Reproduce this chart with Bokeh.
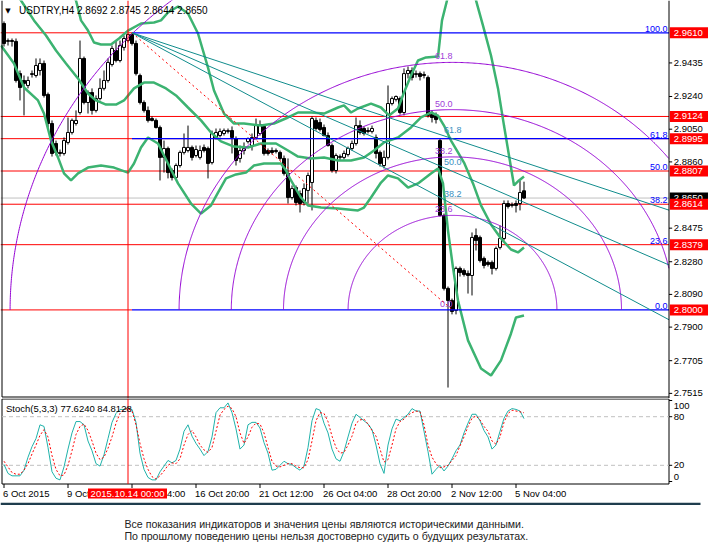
import numpy as np
from bokeh.plotting import figure
from bokeh.models import Range1d, ColumnDataSource
from bokeh.layouts import column
from bokeh.core.properties import value
from bokeh.embed import file_html
from bokeh.resources import INLINE

# ---------------- data ----------------
bar_index = list(range(131))
opens = [2.9664, 2.9560, 2.9565, 2.9560, 2.9373, 2.9333, 2.9304, 2.9368, 2.9362, 2.9391,
         2.9432, 2.9252, 2.9083, 2.8967, 2.8915, 2.8909, 2.8973, 2.9031, 2.9083, 2.9147,
         2.9461, 2.9205, 2.9263, 2.9159, 2.9228, 2.9287, 2.9333, 2.9426, 2.9507, 2.9449,
         2.9525, 2.9565, 2.9600, 2.9548, 2.9362, 2.9205, 2.9159, 2.9112, 2.9101, 2.9060,
         2.8886, 2.8938, 2.8810, 2.8769, 2.8839, 2.8915, 2.8926, 2.8944, 2.8897, 2.8886,
         2.8944, 2.8938, 2.8856, 2.9002, 2.9013, 2.9025, 2.9037, 2.9042, 2.8996, 2.8880,
         2.8926, 2.8978, 2.8955, 2.9002, 2.9025, 2.9066, 2.8926, 2.8926, 2.8926, 2.8915,
         2.8880, 2.8793, 2.8653, 2.8711, 2.8676, 2.8624, 2.8694, 2.8740, 2.9101, 2.9089,
         2.9060, 2.9013, 2.8955, 2.8810, 2.8886, 2.8886, 2.8903, 2.8938, 2.8967, 2.9071,
         2.9054, 2.9042, 2.9037, 2.9002, 2.8915, 2.8839, 2.8886, 2.9199, 2.9223, 2.9228,
         2.9147, 2.9373, 2.9391, 2.9368, 2.9373, 2.9368, 2.9350, 2.9135, 2.9130, 2.8984,
         2.8549, 2.8125, 2.8055, 2.7997, 2.8241, 2.8229, 2.8212, 2.8200, 2.8432, 2.8421,
         2.8299, 2.8276, 2.8276, 2.8241, 2.8363, 2.8415, 2.8618, 2.8612, 2.8618, 2.8618,
         2.8692]
highs = [2.9676, 2.9577, 2.9577, 2.9577, 2.9391, 2.9362, 2.9356, 2.9391, 2.9461, 2.9461,
         2.9449, 2.9263, 2.9101, 2.8984, 2.8932, 2.9002, 2.9118, 2.9112, 2.9159, 2.9565,
         2.9472, 2.9275, 2.9287, 2.9246, 2.9345, 2.9391, 2.9461, 2.9536, 2.9565, 2.9565,
         2.9594, 2.9606, 2.9610, 2.9565, 2.9373, 2.9217, 2.9182, 2.9124, 2.9112, 2.9071,
         2.8984, 2.8949, 2.8822, 2.8851, 2.8926, 2.9025, 2.9071, 2.8955, 2.8955, 2.8955,
         2.8961, 2.8949, 2.9042, 2.9054, 2.9054, 2.9054, 2.9054, 2.9066, 2.9008, 2.8955,
         2.8973, 2.9002, 2.9025, 2.9112, 2.9101, 2.9077, 2.8938, 2.8944, 2.8938, 2.8926,
         2.8897, 2.8880, 2.8723, 2.8723, 2.8694, 2.8735, 2.8798, 2.9124, 2.9118, 2.9112,
         2.9077, 2.9031, 2.8967, 2.8909, 2.8903, 2.8926, 2.8949, 2.8984, 2.9118, 2.9101,
         2.9066, 2.9060, 2.9071, 2.9019, 2.8926, 2.8926, 2.9304, 2.9240, 2.9246, 2.9240,
         2.9403, 2.9414, 2.9409, 2.9391, 2.9385, 2.9385, 2.9362, 2.9159, 2.9147, 2.8996,
         2.8560, 2.8136, 2.8066, 2.8252, 2.8252, 2.8241, 2.8229, 2.8450, 2.8473, 2.8432,
         2.8310, 2.8287, 2.8287, 2.8368, 2.8490, 2.8636, 2.8636, 2.8624, 2.8636, 2.8752,
         2.8745]
lows = [2.9530, 2.9536, 2.9530, 2.9321, 2.9217, 2.9130, 2.9287, 2.9350, 2.9350, 2.9362,
        2.9234, 2.9060, 2.8891, 2.8897, 2.8891, 2.8897, 2.8961, 2.9019, 2.9071, 2.9135,
        2.9194, 2.9141, 2.9135, 2.9147, 2.9217, 2.9275, 2.9321, 2.9414, 2.9438, 2.9438,
        2.9507, 2.9554, 2.9536, 2.9362, 2.9194, 2.9147, 2.9089, 2.9095, 2.9054, 2.8752,
        2.8798, 2.8764, 2.8752, 2.8758, 2.8827, 2.8903, 2.8915, 2.8868, 2.8886, 2.8874,
        2.8915, 2.8764, 2.8845, 2.8990, 2.9002, 2.9013, 2.9025, 2.8909, 2.8839, 2.8856,
        2.8903, 2.8967, 2.8926, 2.8990, 2.9013, 2.8897, 2.8897, 2.8903, 2.8909, 2.8868,
        2.8781, 2.8618, 2.8641, 2.8607, 2.8566, 2.8607, 2.8618, 2.8578, 2.9042, 2.9037,
        2.9008, 2.8949, 2.8798, 2.8793, 2.8868, 2.8874, 2.8891, 2.8926, 2.8955, 2.9019,
        2.9013, 2.9025, 2.9025, 2.8880, 2.8833, 2.8822, 2.8874, 2.9188, 2.9211, 2.9135,
        2.9130, 2.9345, 2.9333, 2.9350, 2.9333, 2.9345, 2.9118, 2.9089, 2.9083, 2.8543,
        2.8113, 2.7549, 2.7974, 2.7974, 2.8194, 2.8194, 2.8095, 2.8084, 2.8345, 2.8276,
        2.8241, 2.8252, 2.8206, 2.8229, 2.8351, 2.8403, 2.8589, 2.8595, 2.8566, 2.8578,
        2.8644]
closes = [2.9548, 2.9565, 2.9560, 2.9333, 2.9292, 2.9316, 2.9333, 2.9373, 2.9420, 2.9432,
          2.9246, 2.9083, 2.8909, 2.8915, 2.8909, 2.8984, 2.9031, 2.9101, 2.9101, 2.9461,
          2.9205, 2.9263, 2.9159, 2.9228, 2.9287, 2.9333, 2.9438, 2.9519, 2.9449, 2.9536,
          2.9577, 2.9600, 2.9548, 2.9373, 2.9205, 2.9159, 2.9101, 2.9101, 2.9060, 2.8886,
          2.8938, 2.8798, 2.8769, 2.8839, 2.8915, 2.8944, 2.8944, 2.8886, 2.8932, 2.8926,
          2.8926, 2.8851, 2.9025, 2.9031, 2.9037, 2.9042, 2.9042, 2.9002, 2.8868, 2.8926,
          2.8938, 2.8996, 2.9002, 2.9071, 2.9077, 2.8909, 2.8909, 2.8915, 2.8920, 2.8880,
          2.8793, 2.8653, 2.8705, 2.8624, 2.8618, 2.8705, 2.8781, 2.9112, 2.9054, 2.9048,
          2.9013, 2.8955, 2.8810, 2.8897, 2.8891, 2.8909, 2.8938, 2.8967, 2.9071, 2.9031,
          2.9025, 2.9037, 2.9054, 2.8909, 2.8851, 2.8886, 2.9199, 2.9228, 2.9240, 2.9147,
          2.9373, 2.9391, 2.9350, 2.9373, 2.9356, 2.9362, 2.9130, 2.9118, 2.9106, 2.8549,
          2.8125, 2.8055, 2.7991, 2.8241, 2.8217, 2.8206, 2.8200, 2.8421, 2.8403, 2.8287,
          2.8258, 2.8264, 2.8241, 2.8357, 2.8415, 2.8618, 2.8601, 2.8607, 2.8607, 2.8682,
          2.8650]

# Bollinger bands (read as polylines: bar position, price)
bb_mid_x = [3, 4.25, 7.5, 10.5, 13, 15.5, 18.5, 21, 23, 25.5, 28, 30, 32.5, 35, 37.5, 40.5, 43, 46,
            49.25, 51.75, 54.25, 57.5, 61, 64.25, 68, 71, 73.5, 76.75, 80, 83.5, 86.75, 90, 92.5,
            95, 98.5, 101.75, 104.25, 106.75, 108.5, 110, 111.75, 113.5, 115, 117.25, 119.25,
            121.75, 124.25, 126.75, 128.5, 130]
bb_mid_p = [2.9827, 2.9798, 2.9682, 2.9594, 2.9507, 2.9432, 2.9345, 2.9257, 2.9217, 2.9193, 2.9193,
            2.9217, 2.9287, 2.9321, 2.9321, 2.9287, 2.9246, 2.9176, 2.9101, 2.9031, 2.8979, 2.8949,
            2.8944, 2.8967, 2.8967, 2.8926, 2.8891, 2.8880, 2.8886, 2.8868, 2.8868, 2.8886, 2.8926,
            2.8973, 2.9002, 2.9060, 2.9118, 2.9147, 2.9129, 2.9071, 2.8984, 2.8915, 2.8856, 2.8735,
            2.8607, 2.8496, 2.8415, 2.8351, 2.8334, 2.8363]
bb_up_x = [13, 15.5, 18, 19.25, 21, 22.5, 24.25, 26.75, 28.75, 31, 34.25, 37.5, 39.25, 41, 43.5, 46,
           48.5, 51, 52.5, 55, 57.5, 60, 64.25, 67.5, 71, 73.5, 76.75, 80, 83.5, 85, 86.75, 88.5,
           91.75, 94.25, 96.25, 98.5, 100, 101.75, 103.5, 105.5, 108.5, 109.5, 110.75, 112.25,
           114.75, 116.75, 118, 119.75, 121.75, 123.5, 125, 126.25, 127.5, 128.75, 130]
bb_up_p = [2.9972, 2.9885, 2.9798, 2.9682, 2.9623, 2.9554, 2.9542, 2.9542, 2.9577, 2.9623, 2.9664,
           2.9670, 2.9682, 2.9728, 2.9763, 2.9722, 2.9606, 2.9408, 2.9275, 2.9141, 2.9083, 2.9083,
           2.9071, 2.9083, 2.9118, 2.9147, 2.9147, 2.9141, 2.9176, 2.9188, 2.9147, 2.9170, 2.9199,
           2.9176, 2.9130, 2.9170, 2.9263, 2.9362, 2.9449, 2.9467, 2.9472, 2.9682, 2.9798, 2.9914,
           2.9972, 2.9914, 2.9798, 2.9652, 2.9478, 2.9287, 2.9071, 2.8897, 2.8723, 2.8752, 2.8775]
bb_lo_x = [-0.75, 2.5, 5, 8.5, 10, 11.75, 13.5, 15, 16.75, 18.5, 21, 24.25, 27.5, 31, 32.5, 34.25,
           36, 38.5, 41, 43.5, 46.75, 49.25, 51.75, 53.5, 55.5, 58, 60.5, 62.5, 65, 69.25, 70.5,
           71.75, 74.25, 76, 79.25, 83.5, 88.5, 90, 91.75, 94.25, 96, 98.5, 101, 103.5, 106.75,
           108.5, 109.75, 111, 112.25, 113.5, 116, 119.25, 121.75, 124.25, 126.75, 128, 130]
bb_lo_p = [2.9536, 2.9432, 2.9292, 2.9217, 2.9141, 2.8984, 2.8886, 2.8793, 2.8752, 2.8793, 2.8827,
           2.8839, 2.8827, 2.8798, 2.8851, 2.8944, 2.9002, 2.8967, 2.8851, 2.8735, 2.8618, 2.8560,
           2.8607, 2.8682, 2.8764, 2.8787, 2.8798, 2.8839, 2.8851, 2.8851, 2.8810, 2.8752, 2.8653,
           2.8607, 2.8595, 2.8589, 2.8578, 2.8595, 2.8653, 2.8740, 2.8781, 2.8764, 2.8711, 2.8735,
           2.8793, 2.8822, 2.8735, 2.8461, 2.8246, 2.8055, 2.7823, 2.7660, 2.7619, 2.7707, 2.7863,
           2.7956, 2.7968]

stoch_k = [21, 10, 7, 7, 7, 14, 30, 43, 53, 70,
           68, 42, 12, 4, 2, 18, 40, 60, 74, 74,
           70, 50, 38, 22, 19, 33, 53, 73, 84, 89,
           89, 91, 89, 73, 35, 15, 5, 2, 2, 12,
           19, 26, 23, 26, 40, 62, 70, 56, 47, 40,
           32, 37, 55, 85, 91, 91, 97, 85, 65, 40,
           45, 70, 73, 73, 66, 48, 35, 14, 15, 20,
           25, 22, 21, 17, 14, 19, 42, 75, 90, 88,
           72, 60, 40, 28, 25, 37, 55, 72, 83, 79,
           75, 71, 64, 45, 22, 10, 45, 65, 77, 75,
           79, 83, 90, 87, 87, 62, 37, 9, 15, 20,
           13, 19, 28, 38, 45, 60, 72, 83, 83, 75,
           63, 55, 40, 45, 62, 78, 87, 90, 89, 87,
           77.624]
stoch_d = [25, 18, 11, 9, 9, 14, 22, 34, 45, 57,
           64, 55, 32, 15, 7, 8, 20, 38, 58, 68,
           71, 63, 50, 35, 27, 30, 41, 55, 72, 84,
           89, 90, 87, 70, 47, 28, 15, 6, 3, 7,
           13, 20, 23, 22, 28, 45, 58, 63, 55, 45,
           39, 36, 42, 62, 82, 89, 93, 90, 80, 60,
           47, 55, 67, 72, 71, 60, 42, 25, 19, 18,
           20, 22, 22, 19, 17, 17, 27, 50, 75, 85,
           84, 74, 56, 42, 35, 36, 45, 56, 72, 76,
           77, 71, 63, 56, 40, 24, 27, 45, 65, 74,
           77, 82, 85, 87, 86, 70, 45, 30, 22, 17,
           18, 20, 26, 32, 44, 55, 68, 78, 81, 76,
           68, 62, 50, 46, 55, 73, 84, 88, 87, 86,
           84.8128]

hline_prices = [2.9610, 2.9124, 2.8995, 2.8807, 2.8614, 2.8379, 2.8000]
current_price = 2.8650
price_ticks = [2.9435, 2.9240, 2.9050, 2.8860, 2.8475, 2.8280, 2.8090, 2.7900, 2.7705, 2.7515]
stoch_ticks = [0, 20, 80, 100]
stoch_tick_labels = ["0", "20", "80", "100"]

fib_high, fib_low = 2.9610, 2.8000
fib_high_bar, fib_low_bar = 32, 112.125
fib_levels = [0.0, 23.6, 38.2, 50.0, 61.8, 100.0]
fib_blue_levels = [0.0, 61.8, 100.0]
arc_levels = [23.6, 38.2, 50.0, 61.8, 100.0]
arc_radius_bars = 110.6
arc_radius_price = 0.2327
fan_levels = [38.2, 50.0, 61.8]

time_tick_bars = [0, 16, 32, 48, 64, 80, 96, 112, 128]
time_tick_labels = ["6 Oct 2015", "9 Oct 12:00", "14 Oct 04:00", "16 Oct 20:00", "21 Oct 12:00",
                    "26 Oct 04:00", "28 Oct 20:00", "2 Nov 12:00", "5 Nov 04:00"]
crosshair_bar = 31
crosshair_label = "2015.10.14 00:00"

title_text = "USDTRY,H4 2.8692 2.8745 2.8644 2.8650"
stoch_text = "Stoch(5,3,3) 77.6240 84.8128"
footer_lines = ["Все показания индикаторов и значения цены являются историческими данными.",
                "По прошлому поведению цены нельзя достоверно судить о будущих результатах."]

# ---------------- styling / layout ----------------
FONT = "Liberation Sans"
GREEN = "#3cb371"
TEAL = "#108c8c"
PURPLE = "#9400d3"
W = 708
PX_PER_BAR = 4.0
X_START = -0.875                     # bar at the left edge of the canvas
X_END = X_START + W / PX_PER_BAR     # bar at the right edge of the canvas
PLOT_RIGHT = 166.25                  # bar where the price scale starts
LEFT_LINE = -0.5
MAIN_H = 398
P_TOP, P_BOTTOM = 2.97977, 2.74853
ppx = (P_TOP - P_BOTTOM) / MAIN_H     # price per pixel
S_H = 104
S_PX = 0.81                          # pixels per stochastic unit
S_Y1 = 102.47
S_Y0 = S_Y1 - S_H / S_PX
S_FRAME_BOTTOM = -2.47 - 0.5 / S_PX


def fig(h, xr, yr):
    f = figure(width=W, height=h, x_range=xr, y_range=yr, output_backend="svg",
               toolbar_location=None, x_axis_location=None, y_axis_location=None,
               min_border_left=0, min_border_right=0, min_border_top=0, min_border_bottom=0)
    f.grid.visible = False
    f.outline_line_color = None
    f.background_fill_color = "white"
    f.border_fill_color = "white"
    return f


# ---------------- main price panel ----------------
xr = Range1d(X_START, X_END)
p = fig(MAIN_H, xr, Range1d(P_BOTTOM, P_TOP))

# horizontal lines
full_lines = [h for h in hline_prices if h not in (fib_high, fib_low)]
p.segment(x0=[X_START] * len(full_lines), x1=[PLOT_RIGHT] * len(full_lines),
          y0=full_lines, y1=full_lines, line_color="red", line_width=1)
p.segment(x0=[X_START] * 2, x1=[fib_high_bar] * 2, y0=[fib_high, fib_low],
          y1=[fib_high, fib_low], line_color="red", line_width=1)
p.segment(x0=[X_START], x1=[PLOT_RIGHT], y0=[current_price], y1=[current_price],
          line_color="#c0c0c0", line_width=1)

# candles
src = ColumnDataSource(dict(
    x=bar_index, o=opens, h=highs, l=lows, c=closes,
    top=[max(o, c) for o, c in zip(opens, closes)],
    bottom=[min(o, c) for o, c in zip(opens, closes)],
    fill=["white" if c >= o else "black" for o, c in zip(opens, closes)]))
p.segment(x0="x", y0="l", x1="x", y1="h", source=src, line_color="black", line_width=1)
p.vbar(x="x", top="top", bottom="bottom", width=0.75, fill_color="fill",
       line_color="black", line_width=1, source=src)

# Bollinger bands
for bx, bp in ((bb_up_x, bb_up_p), (bb_mid_x, bb_mid_p), (bb_lo_x, bb_lo_p)):
    p.line(bx, bp, line_color=GREEN, line_width=2.5)

# fib retracement (blue levels + labels)
rng = fib_high - fib_low
blue_prices = [fib_low + rng * lv / 100 for lv in fib_blue_levels]
p.segment(x0=[fib_high_bar] * len(blue_prices), x1=[PLOT_RIGHT] * len(blue_prices),
          y0=blue_prices, y1=blue_prices, line_color="#0000ff", line_width=1.2)
p.text(x=[PLOT_RIGHT - 0.4] * len(fib_levels), y=[fib_low + rng * lv / 100 for lv in fib_levels],
       text=["%.1f" % lv for lv in fib_levels], text_font=value(FONT), text_font_size="9px",
       text_color="#0000ff", text_align="right", text_baseline="bottom", y_offset=-1)

# fib arcs (upper halves, cut at the price scale)
t = np.linspace(0, np.pi, 721)
for lv in arc_levels:
    xs = fib_low_bar + arc_radius_bars * lv / 100 * np.cos(t)
    ys = fib_low + arc_radius_price * lv / 100 * np.sin(t)
    xs = np.where(xs > PLOT_RIGHT, np.nan, xs)
    p.line(xs, ys, line_color=PURPLE, line_width=1)
arc_lab_levels = [23.6, 38.2, 50.0, 61.8]
p.text(x=[fib_low_bar] * (len(arc_lab_levels) + 1),
       y=[fib_low + arc_radius_price * lv / 100 for lv in arc_lab_levels] + [fib_low],
       text=["%.1f" % lv for lv in arc_lab_levels] + ["0.0"], text_font=value(FONT),
       text_font_size="9px", text_color="#a040d8", text_align="right", text_baseline="bottom",
       y_offset=-3)

# trend line of the fib arcs
p.line([fib_high_bar, fib_low_bar], [fib_high, fib_low], line_color="red", line_width=1,
       line_dash="2 3")

# fib fan
fan_lab_x = fib_low_bar - 2.1
fan_lab_y = []
for lv in fan_levels:
    p_at_b = fib_low + rng * lv / 100
    slope = (p_at_b - fib_high) / (fib_low_bar - fib_high_bar)
    p.line([fib_high_bar, PLOT_RIGHT], [fib_high, fib_high + slope * (PLOT_RIGHT - fib_high_bar)],
           line_color=TEAL, line_width=1)
    fan_lab_y.append(fib_high + slope * (fan_lab_x - fib_high_bar))
p.text(x=[fan_lab_x] * len(fan_levels), y=fan_lab_y, text=["%.1f" % lv for lv in fan_levels],
       text_font=value(FONT), text_font_size="9px", text_color="#3a8fbf", text_align="left",
       text_baseline="bottom", y_offset=-3)

# crosshair
p.segment(x0=[crosshair_bar], x1=[crosshair_bar], y0=[P_BOTTOM], y1=[P_TOP],
          line_color="#ff0000", line_width=1)

# title
title_y = P_TOP - 10 * ppx
p.text(x=[1.0], y=[title_y], text=["▼"], text_font=value("DejaVu Sans"),
       text_font_size="7px", text_color="black", text_align="center", text_baseline="middle")
p.text(x=[3.75], y=[title_y], text=[title_text], text_font=value(FONT),
       text_font_size="10px", text_color="black", text_align="left", text_baseline="middle")

# frame lines and price scale
p.segment(x0=[LEFT_LINE, PLOT_RIGHT, LEFT_LINE],
          x1=[LEFT_LINE, PLOT_RIGHT, PLOT_RIGHT],
          y0=[P_BOTTOM + 1.5 * ppx, P_BOTTOM, P_BOTTOM + 1.5 * ppx],
          y1=[P_TOP, P_TOP, P_BOTTOM + 1.5 * ppx], line_color="black", line_width=1)
p.segment(x0=[PLOT_RIGHT] * len(price_ticks), x1=[PLOT_RIGHT + 0.8] * len(price_ticks),
          y0=price_ticks, y1=price_ticks, line_color="black", line_width=1)
p.text(x=[PLOT_RIGHT + 1.2] * len(price_ticks), y=price_ticks,
       text=["%.4f" % v for v in price_ticks], text_font=value(FONT), text_font_size="9.5px",
       text_color="black", text_align="left", text_baseline="middle")

# price boxes on the scale
box_l, box_r = PLOT_RIGHT + 0.2, X_END
half_box = 5.5 * ppx
p.quad(left=[box_l], right=[box_r], bottom=[current_price - half_box],
       top=[current_price + half_box], fill_color="black", line_color=None)
p.text(x=[PLOT_RIGHT + 1.2], y=[current_price], text=["%.4f" % current_price],
       text_font=value(FONT), text_font_size="9.5px", text_color="white", text_align="left",
       text_baseline="middle")
p.quad(left=[box_l] * len(hline_prices), right=[box_r] * len(hline_prices),
       bottom=[h - half_box for h in hline_prices], top=[h + half_box for h in hline_prices],
       fill_color="red", line_color=None)
p.text(x=[PLOT_RIGHT + 1.2] * len(hline_prices), y=hline_prices,
       text=["%.4f" % h for h in hline_prices], text_font=value(FONT), text_font_size="9.5px",
       text_color="white", text_align="left", text_baseline="middle")

# ---------------- stochastic panel (with time scale) ----------------
p2 = fig(S_H, xr, Range1d(S_Y0, S_Y1))
s_top_line = S_Y1 - 0.5 / S_PX
s_bot_line = S_FRAME_BOTTOM
p2.segment(x0=[LEFT_LINE, LEFT_LINE, LEFT_LINE, PLOT_RIGHT],
           x1=[PLOT_RIGHT, PLOT_RIGHT, LEFT_LINE, PLOT_RIGHT],
           y0=[s_top_line, s_bot_line, s_top_line, s_top_line],
           y1=[s_top_line, s_bot_line, s_bot_line, s_bot_line], line_color="black", line_width=1)
p2.segment(x0=[LEFT_LINE] * 2, x1=[PLOT_RIGHT] * 2, y0=[80, 20], y1=[80, 20],
           line_color="#c0c0c0", line_width=1, line_dash="4 3")
p2.line(bar_index, stoch_k, line_color="#20b2aa", line_width=1)
p2.line(bar_index, stoch_d, line_color="red", line_width=1, line_dash="2 2")
p2.segment(x0=[crosshair_bar], x1=[crosshair_bar], y0=[s_bot_line], y1=[S_Y1],
           line_color="#ff0000", line_width=1)
p2.text(x=[0.5], y=[S_Y1 - 10 / S_PX], text=[stoch_text], text_font=value(FONT),
        text_font_size="9.5px", text_color="black", text_align="left", text_baseline="middle")

# stochastic scale
p2.segment(x0=[PLOT_RIGHT] * len(stoch_ticks), x1=[PLOT_RIGHT + 0.8] * len(stoch_ticks),
           y0=stoch_ticks, y1=stoch_ticks, line_color="black", line_width=1)
st_src = ColumnDataSource(dict(x=[PLOT_RIGHT + 1.2] * len(stoch_ticks), y=stoch_ticks,
                               t=stoch_tick_labels, yo=[-5, 0, 0, 5]))
p2.text(x="x", y="y", text="t", y_offset="yo", source=st_src, text_font=value(FONT),
        text_font_size="9.5px", text_color="black", text_align="left", text_baseline="middle")

# time scale
p2.segment(x0=time_tick_bars, x1=time_tick_bars, y0=[s_bot_line] * len(time_tick_bars),
           y1=[s_bot_line - 4 / S_PX] * len(time_tick_bars), line_color="black", line_width=1)
time_y = s_bot_line - 9.5 / S_PX
p2.text(x=[b - 0.25 for b in time_tick_bars], y=[time_y] * len(time_tick_bars),
        text=time_tick_labels, text_font=value(FONT), text_font_size="9.5px", text_color="black",
        text_align="left", text_baseline="middle")
p2.quad(left=[crosshair_bar - 10], right=[crosshair_bar + 9.75],
        bottom=[time_y - 5 / S_PX], top=[time_y + 5 / S_PX], fill_color="red", line_color=None)
p2.text(x=[crosshair_bar - 0.1], y=[time_y], text=[crosshair_label], text_font=value(FONT),
        text_font_size="9.5px", text_color="white", text_align="center", text_baseline="middle")

# ---------------- footer ----------------
p3 = fig(50, Range1d(0, W), Range1d(0, 50))
p3.quad(left=[0], right=[700], bottom=[47.5], top=[50], fill_color="#1f3d4d", line_color=None)
p3.text(x=[124, 124], y=[29, 17], text=footer_lines, text_font=value(FONT),
        text_font_size="10.6px", text_color="#222222", text_align="left", text_baseline="middle")

layout = column(p, p2, p3, spacing=0)
open("out.html", "w").write(file_html(layout, INLINE))
